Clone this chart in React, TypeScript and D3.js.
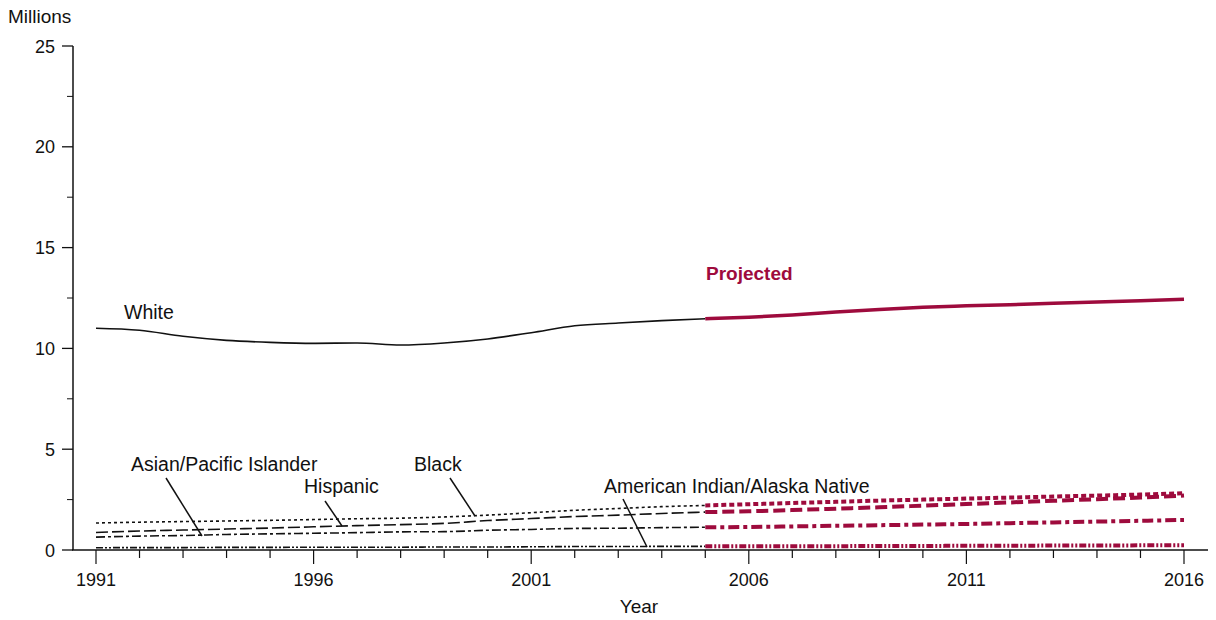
import React from "react";
import * as d3 from "d3";

const yearsHist = [1991, 1992, 1993, 1994, 1995, 1996, 1997, 1998, 1999, 2000, 2001, 2002, 2003, 2004, 2005];
const yearsProj = [2005, 2006, 2007, 2008, 2009, 2010, 2011, 2012, 2013, 2014, 2015, 2016];

const whiteHist = [11.0, 10.9, 10.6, 10.4, 10.3, 10.25, 10.27, 10.17, 10.27, 10.47, 10.78, 11.12, 11.26, 11.38, 11.47];
const whiteProj = [11.47, 11.55, 11.66, 11.8, 11.93, 12.04, 12.11, 12.17, 12.24, 12.3, 12.36, 12.44];
const blackHist = [1.34, 1.38, 1.41, 1.44, 1.47, 1.51, 1.55, 1.58, 1.64, 1.73, 1.85, 1.97, 2.06, 2.15, 2.21];
const blackProj = [2.21, 2.27, 2.33, 2.39, 2.45, 2.5, 2.55, 2.6, 2.65, 2.7, 2.75, 2.82];
const hispHist = [0.87, 0.94, 0.99, 1.04, 1.09, 1.15, 1.21, 1.26, 1.32, 1.46, 1.56, 1.66, 1.73, 1.81, 1.88];
const hispProj = [1.88, 1.92, 1.98, 2.05, 2.12, 2.2, 2.28, 2.36, 2.44, 2.52, 2.6, 2.7];
const asianHist = [0.64, 0.69, 0.72, 0.77, 0.8, 0.83, 0.86, 0.9, 0.91, 0.98, 1.02, 1.07, 1.08, 1.11, 1.13];
const asianProj = [1.13, 1.14, 1.17, 1.2, 1.23, 1.26, 1.29, 1.33, 1.37, 1.41, 1.45, 1.49];
const aianHist = [0.11, 0.12, 0.12, 0.13, 0.13, 0.14, 0.14, 0.14, 0.15, 0.15, 0.16, 0.17, 0.17, 0.18, 0.18];
const aianProj = [0.18, 0.18, 0.19, 0.19, 0.2, 0.2, 0.21, 0.21, 0.22, 0.22, 0.23, 0.23];

const yTicks = [0, 5, 10, 15, 20, 25];
const yMinor = [2.5, 7.5, 12.5, 17.5, 22.5];
const xMajor = [1991, 1996, 2001, 2006, 2011, 2016];

const RED = "#9e0b3d";
const FONT = "'Liberation Sans', Arial, Helvetica, sans-serif";

export default function App() {
  const x = d3.scaleLinear().domain([1991, 2016]).range([96, 1184]);
  const y = d3.scaleLinear().domain([0, 25]).range([550, 46]);
  const allYears = d3.range(1991, 2017);

  const line = (years: number[], vals: number[]) =>
    d3
      .line<number>()
      .x((_, i) => x(years[i]))
      .y((v) => y(v))
      .curve(d3.curveMonotoneX)(vals) as string;

  const series = [
    { h: whiteHist, p: whiteProj, dash: null, pdash: null },
    { h: blackHist, p: blackProj, dash: "3,3", pdash: "5,3" },
    { h: hispHist, p: hispProj, dash: "12,4", pdash: "12,5" },
    { h: asianHist, p: asianProj, dash: "9,3,3,3", pdash: "11,4,4,4" },
    { h: aianHist, p: aianProj, dash: "7,2,2,2,2,2", pdash: "7,2,2,2,2,2" },
  ];

  const labels = [
    { t: "White", x: 124, y: 319 },
    { t: "Asian/Pacific Islander", x: 131, y: 471 },
    { t: "Hispanic", x: 304, y: 493 },
    { t: "Black", x: 414, y: 471 },
    { t: "American Indian/Alaska Native", x: 604, y: 493 },
  ];
  const leaders = [
    [166, 478, 202, 536],
    [325, 501, 342, 526],
    [450, 478, 475, 516],
    [623, 499, 647, 547],
  ];

  return (
    <svg width={1216} height={620} style={{ position: "absolute", left: 0, top: 0, background: "#fff" }} fontFamily={FONT}>
      <text x={8} y={23} fontSize={19} fill="#111">Millions</text>
      {/* y axis */}
      <line x1={73} x2={73} y1={y(25)} y2={550} stroke="#111" strokeWidth={1.5} />
      {yTicks.map((t) => (
        <g key={t}>
          <line x1={62} x2={73} y1={y(t)} y2={y(t)} stroke="#111" strokeWidth={1.3} />
          <text x={55} y={y(t) + 6.5} fontSize={18} textAnchor="end" fill="#111">{t}</text>
        </g>
      ))}
      {yMinor.map((t) => (
        <line key={t} x1={67} x2={73} y1={y(t)} y2={y(t)} stroke="#111" strokeWidth={1} />
      ))}
      {/* x axis */}
      <line x1={72} x2={1208} y1={550} y2={550} stroke="#111" strokeWidth={1.5} />
      {allYears.map((yr) => {
        const major = xMajor.includes(yr);
        return (
          <line key={yr} x1={x(yr)} x2={x(yr)} y1={550} y2={major ? 564 : 558} stroke="#111" strokeWidth={1.2} />
        );
      })}
      {xMajor.map((yr) => (
        <text key={yr} x={x(yr)} y={586} fontSize={18} textAnchor="middle" fill="#111">{yr}</text>
      ))}
      <text x={639} y={613} fontSize={19} textAnchor="middle" fill="#111">Year</text>

      {series.map((s, i) => (
        <g key={i}>
          <path d={line(yearsHist, s.h)} fill="none" stroke="#111" strokeWidth={1.6} strokeDasharray={s.dash ?? undefined} />
          <path d={line(yearsProj, s.p)} fill="none" stroke={RED} strokeWidth={i === 0 ? 3.5 : 4} strokeDasharray={s.pdash ?? undefined} />
        </g>
      ))}

      <text x={706} y={280} fontSize={19} fontWeight="bold" fill={RED}>Projected</text>
      {labels.map((l) => (
        <text key={l.t} x={l.x} y={l.y} fontSize={19.5} fill="#111">{l.t}</text>
      ))}
      {leaders.map((l, i) => (
        <line key={i} x1={l[0]} y1={l[1]} x2={l[2]} y2={l[3]} stroke="#111" strokeWidth={1.5} />
      ))}
    </svg>
  );
}
